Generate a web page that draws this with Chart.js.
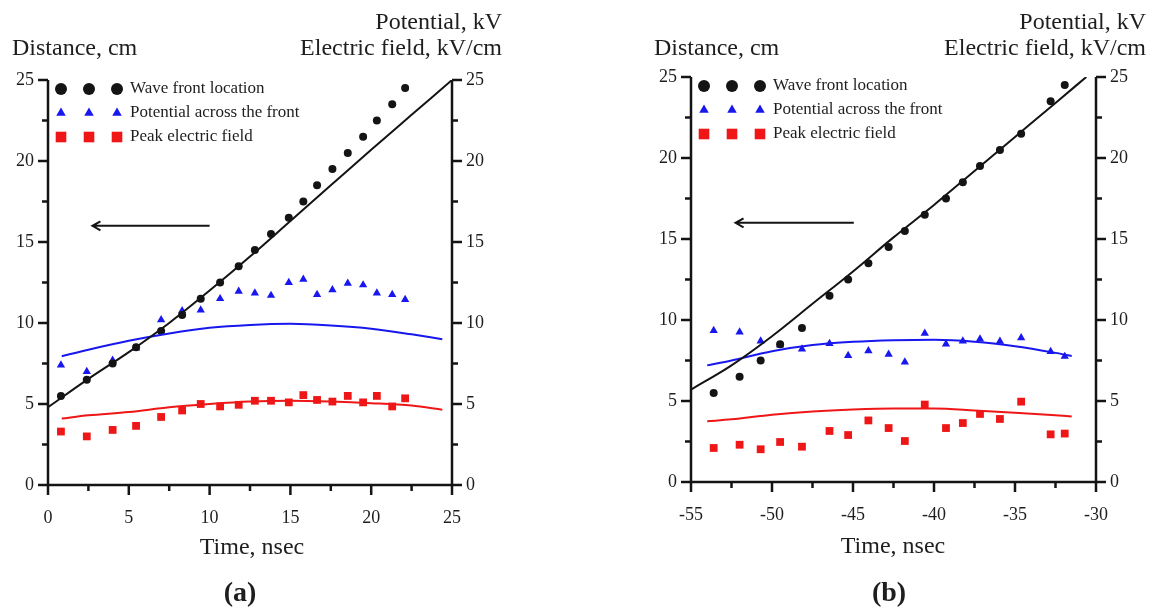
<!DOCTYPE html>
<html>
<head>
<meta charset="utf-8">
<title>Wave front, potential and peak field vs time</title>
<script src="https://cdn.jsdelivr.net/npm/chart.js@4.4.1/dist/chart.umd.min.js"></script>
<style>
  html, body { margin: 0; padding: 0; background: #fff; }
  #wrap { position: relative; width: 1151px; height: 609px; overflow: hidden;
          font-family: "Liberation Serif", "Times New Roman", serif; color: #1e1e1e; }
  #wrap canvas { position: absolute; top: 0; }
  .lbl { position: absolute; white-space: nowrap; line-height: 1; }
</style>
</head>
<body>
<div id="wrap">
  <canvas id="chartA" width="575" height="609" style="left:0px"></canvas>
  <canvas id="chartB" width="576" height="609" style="left:575px"></canvas>

  <div class="lbl" style="left:12px; top:47px; font-size:24px; transform:translateY(-50%)">Distance, cm</div>
  <div class="lbl" style="right:649px; top:21px; font-size:24px; transform:translateY(-50%)">Potential, kV</div>
  <div class="lbl" style="right:649px; top:47px; font-size:24px; transform:translateY(-50%)">Electric field, kV/cm</div>
  <div class="lbl" style="left:252px; top:546px; font-size:24px; transform:translate(-50%,-50%)">Time, nsec</div>
  <div class="lbl" style="left:240px; top:592px; font-size:28px; font-weight:bold; transform:translate(-50%,-50%)">(a)</div>

  <div class="lbl" style="left:654px; top:47px; font-size:24px; transform:translateY(-50%)">Distance, cm</div>
  <div class="lbl" style="right:5px; top:21px; font-size:24px; transform:translateY(-50%)">Potential, kV</div>
  <div class="lbl" style="right:5px; top:47px; font-size:24px; transform:translateY(-50%)">Electric field, kV/cm</div>
  <div class="lbl" style="left:893px; top:545px; font-size:24px; transform:translate(-50%,-50%)">Time, nsec</div>
  <div class="lbl" style="left:889px; top:592px; font-size:28px; font-weight:bold; transform:translate(-50%,-50%)">(b)</div>
</div>

<script>
// axis ticks
const valueTicks = [0, 5, 10, 15, 20, 25];
const timeTicksA = [0, 5, 10, 15, 20, 25];
const timeTicksB = [-55, -50, -45, -40, -35, -30];

// (a) measured points
const timeA      = [0.8, 2.4, 4.0, 5.45, 7.0, 8.3, 9.45, 10.65, 11.8, 12.8, 13.8, 14.9, 15.8, 16.65, 17.6, 18.55, 19.5, 20.35, 21.3, 22.1];
const frontA     = [5.5, 6.5, 7.5, 8.5, 9.5, 10.5, 11.5, 12.5, 13.5, 14.5, 15.5, 16.5, 17.5, 18.5, 19.5, 20.5, 21.5, 22.5, 23.5, 24.5];
const potentialA = [7.4, 7.0, 7.7, 8.45, 10.2, 10.75, 10.8, 11.5, 11.95, 11.85, 11.7, 12.5, 12.7, 11.75, 12.05, 12.45, 12.35, 11.85, 11.75, 11.45];
const fieldA     = [3.3, 3.0, 3.4, 3.65, 4.2, 4.6, 5.0, 4.85, 4.95, 5.2, 5.2, 5.1, 5.55, 5.25, 5.15, 5.5, 5.1, 5.5, 4.85, 5.35];

// (a) model curves
const frontFitTimeA = [0, 2.5, 5, 7.5, 10, 12.5, 15, 17.5, 20, 22.5, 25];
const frontFitA     = [4.8, 6.55, 8.2, 10.0, 12.0, 14.1, 16.3, 18.5, 20.7, 22.85, 25.0];
const fitTimeA      = [0.85, 2.5, 5, 7.5, 10, 12.5, 15, 17.5, 20, 22.5, 24.4];
const potentialFitA = [7.95, 8.35, 8.9, 9.35, 9.7, 9.88, 9.95, 9.85, 9.65, 9.3, 9.0];
const fieldFitA     = [4.1, 4.3, 4.5, 4.8, 5.0, 5.15, 5.2, 5.15, 5.05, 4.9, 4.65];

// (b) measured points
const timeB      = [-53.6, -52.0, -50.7, -49.5, -48.15, -46.45, -45.3, -44.05, -42.8, -41.8, -40.57, -39.26, -38.22, -37.16, -35.93, -34.62, -32.8, -31.93];
const frontB     = [5.5, 6.5, 7.5, 8.5, 9.5, 11.5, 12.5, 13.5, 14.5, 15.5, 16.5, 17.5, 18.5, 19.5, 20.5, 21.5, 23.5, 24.5];
const potentialB = [9.35, 9.25, 8.7, 8.45, 8.2, 8.55, 7.8, 8.1, 7.88, 7.4, 9.18, 8.52, 8.7, 8.82, 8.68, 8.9, 8.05, 7.75];
const fieldB     = [2.1, 2.3, 2.02, 2.47, 2.18, 3.15, 2.9, 3.8, 3.33, 2.53, 4.78, 3.33, 3.64, 4.2, 3.89, 4.96, 2.94, 2.99];

// (b) model curves
const frontFitTimeB = [-55, -52.5, -50, -47.5, -45, -42.5, -40, -37.5, -35, -32.5, -30.6];
const frontFitB     = [5.7, 7.2, 9.0, 11.0, 13.0, 15.1, 17.1, 19.2, 21.3, 23.4, 25.0];
const fitTimeB      = [-54, -52.5, -50, -47.5, -45, -42.5, -40, -37.5, -35, -32.5, -31.5];
const potentialFitB = [7.2, 7.5, 8.07, 8.45, 8.65, 8.75, 8.78, 8.66, 8.38, 7.97, 7.78];
const fieldFitB     = [3.75, 3.87, 4.15, 4.35, 4.47, 4.53, 4.53, 4.42, 4.28, 4.12, 4.05];

// propagation direction arrow (time span at a distance level)
const arrowA = [10.0, 2.75];
const arrowB = [-44.95, -52.25];
const arrowLevel = 16;

const INK = '#141414';
const BLUE = '#1717ee';
const RED = '#ee1616';
const FONT = '"Liberation Serif", "Times New Roman", serif';

const pts = (xs, ys) => xs.map((x, i) => ({ x, y: ys[i] }));

const legendRows = [
  { text: 'Wave front location',        pointStyle: 'circle',   radius: 6,   color: INK },
  { text: 'Potential across the front', pointStyle: 'triangle', radius: 5.5, color: BLUE },
  { text: 'Peak electric field',        pointStyle: 'rect',     radius: 7.5, color: RED }
];

// axis lines with outward major/minor ticks, arrow and legend
const axesFrame = {
  id: 'axesFrame',
  afterDraw(chart) {
    const { ctx, chartArea: a, scales } = chart;
    const major = 10, minor = 6;
    ctx.save();
    ctx.strokeStyle = INK;
    ctx.lineWidth = 2.5;
    ctx.beginPath();
    ctx.moveTo(a.left, a.top); ctx.lineTo(a.left, a.bottom);
    ctx.moveTo(a.right, a.top); ctx.lineTo(a.right, a.bottom);
    ctx.moveTo(a.left, a.bottom); ctx.lineTo(a.right, a.bottom);
    const mids = arr => arr.slice(1).map((v, i) => (v + arr[i]) / 2);
    const xt = chart.options.tickValues.x;
    xt.forEach(v => { const p = scales.x.getPixelForValue(v); ctx.moveTo(p, a.bottom); ctx.lineTo(p, a.bottom + major); });
    mids(xt).forEach(v => { const p = scales.x.getPixelForValue(v); ctx.moveTo(p, a.bottom); ctx.lineTo(p, a.bottom + minor); });
    valueTicks.forEach(v => {
      const p = scales.y.getPixelForValue(v); ctx.moveTo(a.left - major, p); ctx.lineTo(a.left, p);
      const q = scales.y2.getPixelForValue(v); ctx.moveTo(a.right, q); ctx.lineTo(a.right + major, q);
    });
    mids(valueTicks).forEach(v => {
      const p = scales.y.getPixelForValue(v); ctx.moveTo(a.left - minor, p); ctx.lineTo(a.left, p);
      const q = scales.y2.getPixelForValue(v); ctx.moveTo(a.right, q); ctx.lineTo(a.right + minor, q);
    });
    ctx.stroke();

    // arrow
    const [from, to] = chart.options.arrow;
    const x0 = scales.x.getPixelForValue(from), x1 = scales.x.getPixelForValue(to);
    const ya = scales.y.getPixelForValue(arrowLevel);
    ctx.lineWidth = 2;
    ctx.beginPath();
    ctx.moveTo(x0, ya); ctx.lineTo(x1, ya);
    ctx.moveTo(x1 + 8, ya - 4.5); ctx.lineTo(x1, ya); ctx.lineTo(x1 + 8, ya + 4.5);
    ctx.stroke();

    // legend
    ctx.font = '17px ' + FONT;
    ctx.textBaseline = 'middle';
    legendRows.forEach((row, i) => {
      const y = a.top + 9 + i * 24;
      ctx.fillStyle = row.color;
      [13, 41, 69].forEach(dx => {
        Chart.helpers.drawPoint(ctx, { pointStyle: row.pointStyle, radius: row.radius, rotation: 0, borderWidth: 0 }, a.left + dx, y);
      });
      ctx.fillStyle = '#1e1e1e';
      ctx.fillText(row.text, a.left + 82, y);
    });
    ctx.restore();
  }
};

function makePanel(id, p) {
  const lineSet = (data, color, axis) => ({
    data, showLine: true, borderColor: color, borderWidth: 2, pointRadius: 0,
    cubicInterpolationMode: 'monotone', yAxisID: axis
  });
  const markSet = (label, data, style, radius, color, axis) => ({
    label, data, showLine: false, pointStyle: style, pointRadius: radius,
    backgroundColor: color, borderWidth: 0, yAxisID: axis
  });
  const tickFont = { family: FONT, size: 18 };
  const fixTicks = arr => scale => { scale.ticks = arr.map(v => ({ value: v })); };

  new Chart(document.getElementById(id), {
    type: 'scatter',
    data: {
      datasets: [
        lineSet(pts(p.frontFitTime, p.frontFit), INK, 'y'),
        lineSet(pts(p.fitTime, p.potentialFit), BLUE, 'y2'),
        lineSet(pts(p.fitTime, p.fieldFit), RED, 'y2'),
        markSet('Wave front location', pts(p.time, p.front), 'circle', 4, INK, 'y'),
        markSet('Potential across the front', pts(p.time, p.potential), 'triangle', 4.8, BLUE, 'y2'),
        markSet('Peak electric field', pts(p.time, p.field), 'rect', 5.5, RED, 'y2')
      ]
    },
    options: {
      responsive: false,
      animation: false,
      events: [],
      tickValues: { x: p.timeTicks },
      arrow: p.arrow,
      layout: { padding: p.padding },
      plugins: { legend: { display: false }, tooltip: { enabled: false } },
      scales: {
        x: {
          type: 'linear', min: p.timeTicks[0], max: p.timeTicks[p.timeTicks.length - 1],
          afterBuildTicks: fixTicks(p.timeTicks),
          afterFit: s => { s.height = 60; },
          grid: { display: false }, border: { display: false },
          ticks: { font: tickFont, color: '#1e1e1e', padding: 14, maxRotation: 0 }
        },
        y: {
          position: 'left', min: 0, max: 25,
          afterBuildTicks: fixTicks(valueTicks),
          afterFit: s => { s.width = 40; },
          grid: { display: false }, border: { display: false },
          ticks: { font: tickFont, color: '#1e1e1e', padding: 6 }
        },
        y2: {
          position: 'right', min: 0, max: 25,
          afterBuildTicks: fixTicks(valueTicks),
          afterFit: s => { s.width = 40; },
          grid: { display: false }, border: { display: false },
          ticks: { font: tickFont, color: '#1e1e1e', padding: 6 }
        }
      }
    },
    plugins: [axesFrame]
  });
}

makePanel('chartA', {
  time: timeA, front: frontA, potential: potentialA, field: fieldA,
  frontFitTime: frontFitTimeA, frontFit: frontFitA,
  fitTime: fitTimeA, potentialFit: potentialFitA, fieldFit: fieldFitA,
  timeTicks: timeTicksA, arrow: arrowA,
  padding: { left: 8, right: 83, top: 80, bottom: 64 }
});

makePanel('chartB', {
  time: timeB, front: frontB, potential: potentialB, field: fieldB,
  frontFitTime: frontFitTimeB, frontFit: frontFitB,
  fitTime: fitTimeB, potentialFit: potentialFitB, fieldFit: fieldFitB,
  timeTicks: timeTicksB, arrow: arrowB,
  padding: { left: 76, right: 15, top: 77, bottom: 67 }
});
</script>
</body>
</html>
